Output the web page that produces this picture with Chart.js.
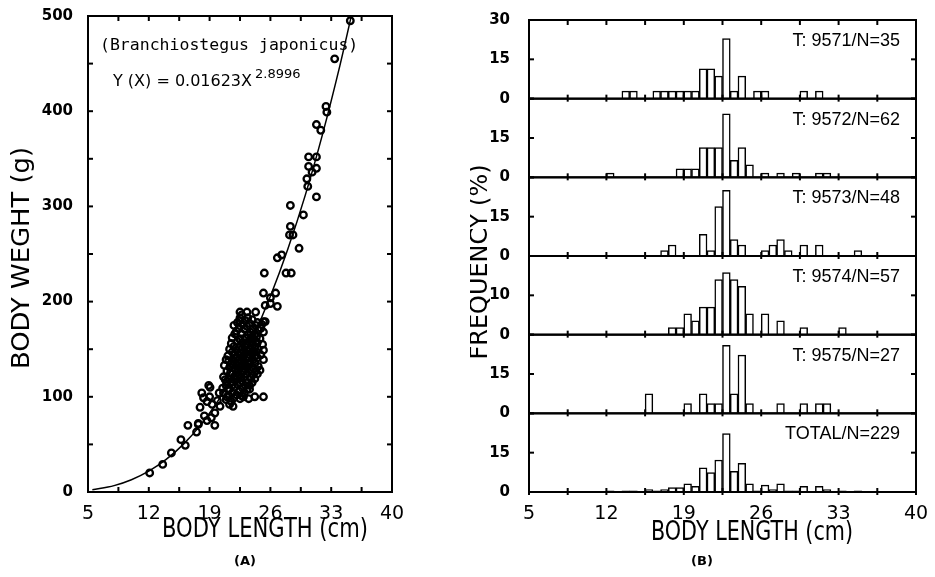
<!DOCTYPE html>
<html><head><meta charset="utf-8">
<script src="https://cdn.jsdelivr.net/npm/chart.js@4/dist/chart.umd.min.js"></script>
<style>
html,body{margin:0;padding:0;background:#fff;width:935px;height:577px;overflow:hidden}
#a{position:absolute;left:0;top:0;width:460px;height:577px}
#b{position:absolute;left:470px;top:0;width:465px;height:577px}
.cap{position:absolute;width:60px;text-align:center;font:bold 13px "DejaVu Sans",sans-serif;color:#000;line-height:16px}
</style></head><body>
<div id="a"><canvas id="ca"></canvas></div>
<div id="b"><canvas id="cb"></canvas></div>
<div class="cap" style="left:215px;top:553px">(A)</div>
<div class="cap" style="left:672px;top:553px">(B)</div>
<script>
// ---------- Panel A: length-weight scatter ----------
const bodyLength = [
 35.2,33.4,32.4,32.5,31.8,31.3,30.4,31.3,30.4,31.3,30.8,30.2,30.3,31.3,28.3,29.8,28.3,28.6,28.2,29.3,26.8,27.3,27.8,28.4,25.3,25.2,26.6,26.0,25.4,26.0,26.8,
 12.1,13.6,14.6,15.7,16.2,16.5,17.5,17.7,17.9,18.3,18.7,18.7,19.0,19.05,19.6,19.6,18.1,19.3,18.9,19.9,20.1,18.4,19.2,17.7,
 20.5,21.0,21.7,21.1,22.5,23.5,24.2,25.2,23.6,25.2,25.2,25.2,25.2,25.4,22.5,22.5,23.3,24.3,22.9,22.5,21.3,20.8,20.2,
 20.6,20.7,20.6,20.9,20.9,21.0,20.9,
 21.2,21.3,21.2,21.3,21.2,21.3,
 21.5,21.6,21.5,21.6,21.5,21.6,21.5,21.6,
 21.8,21.9,21.8,21.9,21.8,21.9,21.8,21.9,21.8,
 22.1,22.2,22.1,22.2,22.1,22.2,22.1,22.2,22.1,22.2,
 22.4,22.5,22.4,22.5,22.4,22.5,22.4,22.5,22.4,22.5,
 22.7,22.8,22.7,22.8,22.7,22.8,22.7,22.8,22.7,22.8,22.7,
 23.0,23.1,23.0,23.1,23.0,23.1,23.0,23.1,23.0,23.1,
 23.3,23.4,23.3,23.4,23.3,23.4,23.3,23.4,23.3,23.4,
 23.6,23.7,23.6,23.7,23.6,23.7,23.6,23.7,23.6,
 23.9,24.0,23.9,24.0,23.9,24.0,23.9,24.0,23.9,
 24.2,24.3,24.2,24.3,24.2,24.3,24.2,24.3,
 24.5,24.6,24.5,24.6,24.5,24.6,24.5,
 24.8,24.9,24.8,24.9,
 25.1,25.0,
 21.0,21.4,21.7,22.0,22.3,22.6,22.9,23.2,23.5,23.8,24.1,24.4,21.1,21.6,22.0,22.6,23.0,23.5,24.0,24.4
];
const bodyWeight = [
 495,455,405,399,380,386,352,352,342,340,336,329,321,310,301,291,279,270,270,256,246,249,230,230,230,209,209,204,196,198,195,
 20,29,41,55,49,70,63,71,89,99,95,75,100,110,83,70,104,92,112,96,104,80,78,72,
 109,100,90,143,98,98,100,100,108,139,149,168,179,179,180,189,189,189,100,160,92,118,90,
 121,133,104,97,112,127,139,
 101,108,119,131,138,150,
 95,104,116,124,135,147,156,162,
 99,110,121,129,137,144,153,166,175,
 102,113,118,126,134,141,149,158,169,178,
 106,115,123,131,139,146,152,161,172,183,
 101,109,117,126,133,142,150,157,166,176,186,
 104,112,121,129,137,145,153,162,171,180,
 108,115,124,132,141,148,156,165,174,183,
 112,120,128,136,144,151,160,168,177,
 115,123,131,139,147,155,163,171,181,
 119,127,135,143,151,158,166,175,
 124,132,141,150,157,170,178,
 128,144,161,172,
 155,176,
 116,125,133,140,128,138,147,154,135,158,147,163,108,112,122,120,132,141,160,147
];
// fitted curve Y(X) = 0.01623 X^2.8996
const fitLength = [5.5, 8, 10, 12, 14, 16, 18, 20, 22, 24, 26, 28, 30, 32, 34, 35.3];
const fitWeight = [2.3, 6.7, 12.9, 21.9, 34.2, 50.3, 70.8, 96.1, 126.7, 163.1, 205.7, 255.0, 311.3, 375.7, 447.9, 499.3];

const lengthTicks = [5, 12, 19, 26, 33, 40];
const lengthTickMarks = [5, 8.5, 12, 15.5, 19, 22.5, 26, 29.5, 33, 36.5, 40];
const weightTicks = [0, 100, 200, 300, 400, 500];
const weightTickMarks = [0, 50, 100, 150, 200, 250, 300, 350, 400, 450, 500];

// ---------- Panel B: length-frequency (%) per haul, 0.7 cm classes from 5 to 40 cm ----------
const binLabels = Array.from({length: 50}, (_, k) => (5.35 + 0.7 * k).toFixed(2));
const freq9571 = [0,0,0,0,0,0,0,0,0,0, 0,0,2.9,2.9,0,0,2.9,2.9,2.9,2.9, 2.9,2.9,11.4,11.4,8.6,22.9,2.9,8.6,0,2.9, 2.9,0,0,0,0,2.9,0,2.9,0,0, 0,0,0,0,0,0,0,0,0,0];
const freq9572 = [0,0,0,0,0,0,0,0,0,0, 1.6,0,0,0,0,0,0,0,0,3.2, 3.2,3.2,11.3,11.3,11.3,24.2,6.5,11.3,4.8,0, 1.6,0,1.6,0,1.6,0,0,1.6,1.6,0, 0,0,0,0,0,0,0,0,0,0];
const freq9573 = [0,0,0,0,0,0,0,0,0,0, 0,0,0,0,0,0,0,2.1,4.2,0, 0,0,8.3,2.1,18.8,25.0,6.3,4.2,0,0, 2.1,4.2,6.3,2.1,0,4.2,0,4.2,0,0, 0,0,2.1,0,0,0,0,0,0,0];
const freq9574 = [0,0,0,0,0,0,0,0,0,0, 0,0,0,0,0,0,0,0,1.8,1.8, 5.3,3.5,7.0,7.0,14.0,15.8,14.0,12.3,5.3,0, 5.3,0,3.5,0,0,1.8,0,0,0,0, 1.8,0,0,0,0,0,0,0,0,0];
const freq9575 = [0,0,0,0,0,0,0,0,0,0, 0,0,0,0,0,7.4,0,0,0,0, 3.7,0,7.4,3.7,3.7,25.9,7.4,22.2,3.7,0, 0,0,3.7,0,0,3.7,0,3.7,3.7,0, 0,0,0,0,0,0,0,0,0,0];
const freqTotal = [0,0,0,0,0,0,0,0,0,0, 0.4,0,0.4,0.4,0,0.9,0.4,0.9,1.7,1.7, 3.1,2.2,9.2,7.4,12.2,22.3,7.9,10.9,3.1,0.4, 2.6,0.9,3.1,0.4,0.4,2.2,0,2.2,0.9,0, 0.4,0,0.4,0,0,0,0,0,0,0];
const panelLabels = ['T: 9571/N=35', 'T: 9572/N=62', 'T: 9573/N=48', 'T: 9574/N=57', 'T: 9575/N=27', 'TOTAL/N=229'];
const freqTicks = [0, 15, 30];
const freqTicksAlt = [0, 10, 20];

const FAM = '"DejaVu Sans", sans-serif';
const yTickFont = {family: FAM, size: 15, weight: 'bold'};
const xTickFont = {family: FAM, size: 19, weight: 'normal'};

function seg(ctx, x1, y1, x2, y2) { ctx.beginPath(); ctx.moveTo(x1, y1); ctx.lineTo(x2, y2); ctx.stroke(); }
function condensedText(ctx, text, cx, cy, size, width, angle) {
  ctx.save(); ctx.translate(cx, cy); if (angle) ctx.rotate(angle);
  ctx.font = size + 'px ' + FAM;
  const w = ctx.measureText(text).width; ctx.scale(width / w, 1);
  ctx.textAlign = 'center'; ctx.textBaseline = 'middle'; ctx.fillStyle = '#000';
  ctx.fillText(text, 0, 0); ctx.restore();
}

const frameA = {
  id: 'frameA',
  afterDraw(c) {
    const {ctx, chartArea: a} = c; const x = c.scales.x, y = c.scales.y;
    ctx.save(); ctx.strokeStyle = '#000'; ctx.lineWidth = 2; ctx.fillStyle = '#000';
    ctx.strokeRect(a.left, a.top, a.right - a.left, a.bottom - a.top);
    lengthTickMarks.forEach(v => { const px = x.getPixelForValue(v); seg(ctx, px, a.bottom, px, a.bottom - 5); seg(ctx, px, a.top, px, a.top + 5); });
    weightTickMarks.forEach(v => { const py = y.getPixelForValue(v); seg(ctx, a.left, py, a.left + 5, py); seg(ctx, a.right, py, a.right - 5, py); });
    ctx.textBaseline = 'middle'; ctx.textAlign = 'left';
    ctx.font = '16.5px "DejaVu Sans Mono", monospace';
    ctx.fillText('(Branchiostegus japonicus)', a.left + 12, a.top + 30);
    ctx.font = '16px ' + FAM;
    const eq = 'Y (X) = 0.01623X';
    ctx.fillText(eq, a.left + 25, a.top + 66);
    const ew = ctx.measureText(eq).width;
    ctx.font = '13px ' + FAM;
    ctx.fillText('2.8996', a.left + 25 + ew + 3, a.top + 59);
    condensedText(ctx, 'BODY LENGTH (cm)', 265, 530, 26, 206, 0);
    condensedText(ctx, 'BODY WEGHT (g)', 23, 258, 24, 222, -Math.PI / 2);
    ctx.restore();
  }
};

new Chart(document.getElementById('ca'), {
  type: 'scatter',
  data: {datasets: [
    {label: 'Fish', data: bodyLength.map((v, i) => ({x: v, y: bodyWeight[i]})), showLine: false,
     pointRadius: 3.3, pointBorderWidth: 2.3, pointBorderColor: '#000', pointBackgroundColor: 'rgba(255,255,255,0)'},
    {label: 'Fit', type: 'line', data: fitLength.map((v, i) => ({x: v, y: fitWeight[i]})),
     borderColor: '#000', borderWidth: 1.5, pointRadius: 0, cubicInterpolationMode: 'monotone', fill: false}
  ]},
  options: {
    responsive: true, maintainAspectRatio: false, animation: false, devicePixelRatio: 1,
    layout: {padding: {left: 0, right: 68, top: 16, bottom: 0}},
    plugins: {legend: {display: false}, tooltip: {enabled: false}},
    scales: {
      x: {type: 'linear', position: 'bottom', min: 5, max: 40, offset: false,
          afterBuildTicks: s => { s.ticks = lengthTicks.map(v => ({value: v})); },
          afterFit: s => { s.height = 85; },
          grid: {display: false}, border: {display: false},
          ticks: {font: xTickFont, color: '#000', padding: 3, maxRotation: 0, autoSkip: false}},
      y: {type: 'linear', position: 'left', min: 0, max: 500,
          afterBuildTicks: s => { s.ticks = weightTicks.map(v => ({value: v})); },
          afterFit: s => { s.width = 88; },
          grid: {display: false}, border: {display: false},
          ticks: {font: yTickFont, color: '#000', padding: 7, autoSkip: false}}
    }
  },
  plugins: [frameA]
});

// ---------- Chart B ----------
const panelData = [freq9571, freq9572, freq9573, freq9574, freq9575, freqTotal];
const panelTickSets = [freqTicks, freqTicks, freqTicks, freqTicksAlt, freqTicks, freqTicks];
const panelIds = ['p1', 'p2', 'p3', 'p4', 'p5', 'p6'];

const scalesB = {
  x: {type: 'category', labels: binLabels, display: false, offset: true},
  xl: {type: 'linear', position: 'bottom', min: 5, max: 40, offset: false,
       afterBuildTicks: s => { s.ticks = lengthTicks.map(v => ({value: v})); },
       afterFit: s => { s.height = 85; },
       grid: {display: false, offset: false}, border: {display: false},
       ticks: {font: xTickFont, color: '#000', padding: 3, maxRotation: 0, autoSkip: false}}
};
panelIds.forEach((id, i) => {
  const tk = panelTickSets[i]; const top = tk[tk.length - 1];
  scalesB[id] = {
    type: 'linear', position: 'left', stack: 'freq', stackWeight: 1, weight: 6 - i,
    min: 0, max: top,
    afterBuildTicks: s => { s.ticks = tk.map(v => ({value: v})); },
    afterFit: s => { s.width = 59; },
    grid: {display: false}, border: {display: false},
    ticks: {font: yTickFont, color: '#000', padding: 11, autoSkip: false,
            callback: v => (i > 0 && v === top) ? '' : String(v)}
  };
});

const frameB = {
  id: 'frameB',
  afterDraw(c) {
    const {ctx, chartArea: a} = c; const xl = c.scales.xl;
    ctx.save(); ctx.strokeStyle = '#000'; ctx.lineWidth = 2; ctx.fillStyle = '#000';
    panelIds.forEach((id, i) => {
      const s = c.scales[id];
      ctx.strokeRect(a.left, s.top, a.right - a.left, s.bottom - s.top);
      lengthTickMarks.forEach(v => { const px = xl.getPixelForValue(v); seg(ctx, px, s.bottom - 4, px, s.bottom + 3); });
      panelTickSets[i].forEach(v => { const py = s.getPixelForValue(v); seg(ctx, a.left, py, a.left + 5, py); seg(ctx, a.right, py, a.right - 5, py); });
      ctx.font = '18px "Liberation Sans", sans-serif'; ctx.textAlign = 'right'; ctx.textBaseline = 'middle';
      ctx.fillText(panelLabels[i], a.right - 16, s.top + 21);
    });
    lengthTickMarks.forEach(v => { const px = xl.getPixelForValue(v); seg(ctx, px, a.top, px, a.top + 5); });
    condensedText(ctx, 'FREQUENCY (%)', 11, 262, 24, 195, -Math.PI / 2);
    condensedText(ctx, 'BODY LENGTH (cm)', 282, 533, 26, 202, 0);
    ctx.restore();
  }
};

new Chart(document.getElementById('cb'), {
  type: 'bar',
  data: {
    labels: binLabels,
    datasets: panelIds.map((id, i) => ({
      label: panelLabels[i], data: panelData[i], xAxisID: 'x', yAxisID: id,
      backgroundColor: '#fff', borderColor: '#000', borderWidth: 1.5,
      barPercentage: 1, categoryPercentage: 1, grouped: false
    }))
  },
  options: {
    responsive: true, maintainAspectRatio: false, animation: false, devicePixelRatio: 1,
    layout: {padding: {left: 0, right: 19, top: 16, bottom: 0}},
    plugins: {legend: {display: false}, tooltip: {enabled: false}},
    scales: scalesB
  },
  plugins: [frameB]
});
</script>
</body></html>
